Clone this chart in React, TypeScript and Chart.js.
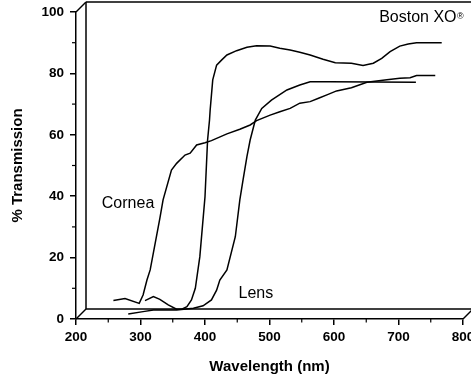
import React, { useEffect, useRef } from 'react';
import { Chart, registerables } from 'chart.js';

Chart.register(...registerables);

// Axis ticks
const xMajorTicks = [200, 300, 400, 500, 600, 700, 800];
const xMinorTicks = [250, 350, 450, 550, 650, 750];
const yMajorTicks = [0, 20, 40, 60, 80, 100];
const yMinorTicks = [10, 30, 50, 70, 90];

// Cornea (wavelength nm, % transmission)
const corneaX = [258, 276, 298, 304, 310, 315, 330, 335, 348, 356, 369, 377, 387, 400, 410, 434, 454, 470, 480, 501, 516, 532, 547, 563, 576, 589, 604, 627, 651, 682, 702, 718, 728, 757];
const corneaY = [6.0, 6.7, 5.1, 7.8, 12.7, 16.0, 32.8, 38.8, 48.5, 50.7, 53.4, 54.0, 56.7, 57.4, 58.1, 60.3, 61.8, 63.2, 64.6, 66.4, 67.5, 68.6, 70.3, 70.8, 71.9, 73.0, 74.3, 75.3, 77.1, 77.9, 78.4, 78.6, 79.3, 79.3];

// Boston XO
const bostonX = [307, 320, 330, 343, 356, 364, 372, 379, 385, 392, 400, 404, 407, 408, 412, 418, 426, 434, 449, 465, 480, 501, 516, 532, 547, 563, 583, 602, 627, 645, 661, 674, 687, 702, 715, 728, 767];
const bostonY = [6.0, 7.3, 6.4, 4.6, 3.2, 3.2, 4.0, 6.2, 10.0, 20.3, 39.8, 58.3, 64.8, 68.1, 77.9, 82.7, 84.4, 86.0, 87.4, 88.5, 89.0, 88.9, 88.2, 87.6, 86.9, 86.0, 84.6, 83.5, 83.3, 82.6, 83.3, 84.9, 87.1, 88.9, 89.6, 90.0, 90.0];

// Lens
const lensX = [281, 304, 320, 356, 382, 397, 410, 418, 423, 434, 447, 454, 459, 465, 470, 478, 488, 503, 527, 547, 563, 594, 727];
const lensY = [1.6, 2.4, 2.9, 2.9, 3.5, 4.3, 6.2, 9.4, 12.7, 16.0, 26.8, 38.8, 45.3, 52.9, 58.3, 64.8, 68.6, 71.3, 74.6, 76.2, 77.3, 77.3, 77.1];

// Text labels placed at data coordinates
const labelTexts = ['Cornea', 'Lens', 'Boston XO'];
const labelX = [240, 452, 670];
const labelY = [37.5, 8.4, 98.2];

const FONT = '"Liberation Sans", Arial, Helvetica, sans-serif';

const toPoints = (xs: number[], ys: number[]) => xs.map((x, i) => ({ x, y: ys[i] }));

const framePlugin = {
  id: 'frame3d',
  afterDraw(chart: any) {
    const { ctx } = chart;
    const xs = chart.scales.x;
    const ys = chart.scales.y;
    const x0 = xs.getPixelForValue(200);
    const x1 = xs.getPixelForValue(800);
    const y0 = ys.getPixelForValue(0);
    const y1 = ys.getPixelForValue(100);
    const d = 10;
    ctx.save();
    ctx.strokeStyle = '#000';
    ctx.lineWidth = 1.5;
    ctx.lineCap = 'butt';
    const line = (ax: number, ay: number, bx: number, by: number) => {
      ctx.beginPath();
      ctx.moveTo(ax, ay);
      ctx.lineTo(bx, by);
      ctx.stroke();
    };
    // back panel
    line(x0 + d, y1 - d, x0 + d, y0 - d);
    line(x0 + d, y1 - d, x1 + d, y1 - d);
    line(x0 + d, y0 - d, x1 + d, y0 - d);
    // depth edges
    line(x0, y1, x0 + d, y1 - d);
    line(x0, y0, x0 + d, y0 - d);
    line(x1, y0, x1 + d, y0 - d);
    // minor ticks
    ctx.lineWidth = 1.2;
    yMinorTicks.forEach((v) => {
      const py = ys.getPixelForValue(v);
      line(x0 - 4, py, x0, py);
    });
    xMinorTicks.forEach((v) => {
      const px = xs.getPixelForValue(v);
      line(px, y0, px, y0 + 3.5);
    });
    // annotations
    ctx.fillStyle = '#000';
    ctx.textAlign = 'left';
    ctx.textBaseline = 'middle';
    ctx.font = `16px ${FONT}`;
    labelTexts.forEach((t, i) => {
      const px = xs.getPixelForValue(labelX[i]);
      const py = ys.getPixelForValue(labelY[i]);
      ctx.fillText(t, px, py);
      if (t === 'Boston XO') {
        const w = ctx.measureText(t).width;
        ctx.font = `9px ${FONT}`;
        ctx.textBaseline = 'top';
        ctx.fillText('®', px + w + 0.5, py - 6);
        ctx.font = `16px ${FONT}`;
        ctx.textBaseline = 'middle';
      }
    });
    ctx.restore();
  },
};

export default function App() {
  const canvasRef = useRef<HTMLCanvasElement | null>(null);

  useEffect(() => {
    if (!canvasRef.current) return;
    Chart.defaults.color = '#000';
    Chart.defaults.font.family = FONT;
    const lineStyle = {
      borderColor: '#000',
      borderWidth: 1.5,
      pointRadius: 0,
      tension: 0,
      fill: false,
    };
    const chart = new Chart(canvasRef.current, {
      type: 'line',
      data: {
        datasets: [
          { label: 'Cornea', data: toPoints(corneaX, corneaY), ...lineStyle },
          { label: 'Boston XO', data: toPoints(bostonX, bostonY), ...lineStyle },
          { label: 'Lens', data: toPoints(lensX, lensY), ...lineStyle },
        ],
      },
      options: {
        animation: false,
        responsive: false,
        maintainAspectRatio: false,
        layout: { padding: { top: 12, right: 8, left: 0, bottom: 0 } },
        plugins: {
          legend: { display: false },
          tooltip: { enabled: false },
        },
        scales: {
          x: {
            type: 'linear',
            min: 200,
            max: 800,
            afterBuildTicks: (s: any) => {
              s.ticks = xMajorTicks.map((v) => ({ value: v }));
            },
            ticks: {
              font: { size: 13.5, weight: 'bold' },
              padding: 4,
              maxRotation: 0,
              autoSkip: false,
            },
            grid: {
              drawOnChartArea: false,
              drawTicks: true,
              tickLength: 6,
              color: '#000',
              lineWidth: 1.5,
            },
            border: { display: true, color: '#000', width: 1.5 },
            title: {
              display: true,
              text: 'Wavelength (nm)',
              font: { size: 15, weight: 'bold' },
              padding: { top: 0, bottom: 1 },
            },
            afterFit: (s: any) => {
              s.height = 58;
              s.paddingLeft = 0;
              s.paddingRight = 0;
            },
          },
          y: {
            type: 'linear',
            min: 0,
            max: 100,
            afterBuildTicks: (s: any) => {
              s.ticks = yMajorTicks.map((v) => ({ value: v }));
            },
            ticks: {
              font: { size: 13.5, weight: 'bold' },
              padding: 6,
            },
            grid: {
              drawOnChartArea: false,
              drawTicks: true,
              tickLength: 6,
              color: '#000',
              lineWidth: 1.5,
            },
            border: { display: true, color: '#000', width: 1.5 },
            title: {
              display: true,
              text: '% Transmission',
              font: { size: 15, weight: 'bold' },
              padding: { top: 9, bottom: 0 },
            },
            afterFit: (s: any) => {
              s.width = 76;
              s.paddingTop = 0;
              s.paddingBottom = 0;
            },
          },
        },
      } as any,
      plugins: [framePlugin],
    });
    return () => chart.destroy();
  }, []);

  return (
    <div style={{ position: 'absolute', left: 0, top: 0, width: 471, height: 377, background: '#fff' }}>
      <canvas ref={canvasRef} width={471} height={377} />
    </div>
  );
}
